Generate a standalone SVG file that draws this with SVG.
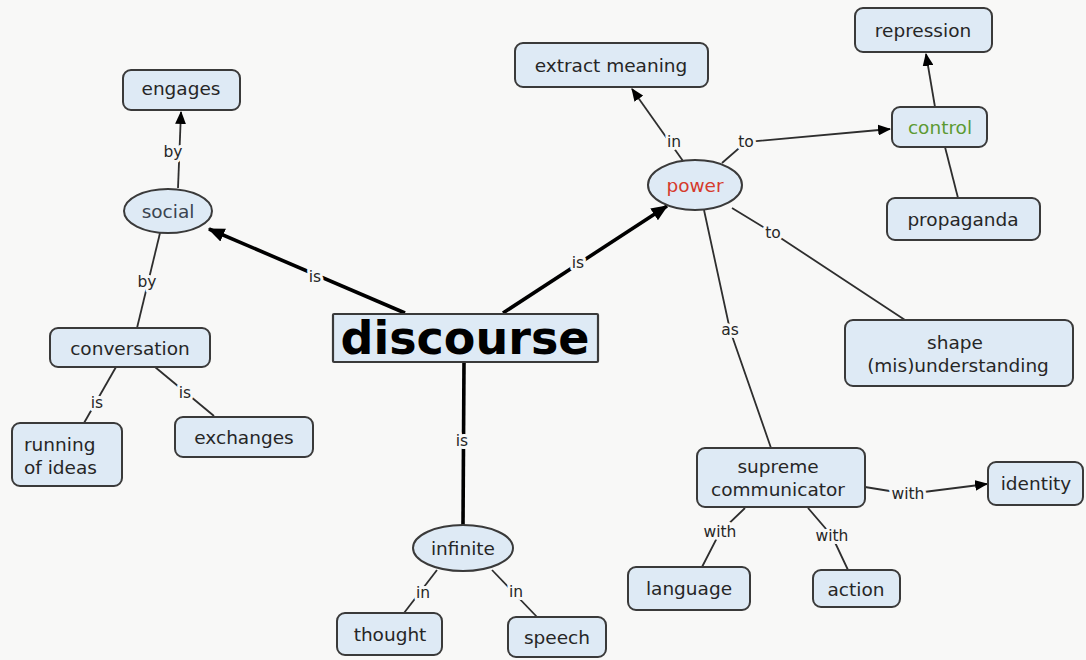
<svg xmlns="http://www.w3.org/2000/svg" width="1086" height="660" viewBox="0 0 1086 660">
<defs>
<style>
.bg{fill:#f8f8f7}
.n rect,.n ellipse{fill:#deeaf5;stroke:#3a3a3a;stroke-width:2}
.t{font-family:"DejaVu Sans",Verdana,sans-serif;font-size:18.5px;fill:#262626;text-anchor:middle}
.l{font-family:"DejaVu Sans",Verdana,sans-serif;font-size:15.5px;fill:#262626;text-anchor:middle;stroke:#f8f8f7;stroke-width:6;paint-order:stroke;stroke-linejoin:round}
.c{fill:none;stroke:#2e2e2e;stroke-width:1.8}
.b{fill:none;stroke:#000;stroke-width:3.6}
</style>
<marker id="ah" viewBox="0 0 12 10" refX="11" refY="5" markerWidth="13" markerHeight="11" markerUnits="userSpaceOnUse" orient="auto"><path d="M0,0 L12,5 L0,10 z" fill="#000"/></marker>
<marker id="ahb" viewBox="0 0 12 10" refX="11" refY="5" markerWidth="17" markerHeight="14" markerUnits="userSpaceOnUse" orient="auto"><path d="M0,0 L12,5 L0,10 z" fill="#000"/></marker>
</defs>
<rect class="bg" x="0" y="0" width="1086" height="660"/>
<g id="connectors">
<polyline class="b" points="405,313 209,229" marker-end="url(#ahb)"/>
<polyline class="b" points="503,313 667,206" marker-end="url(#ahb)"/>
<polyline class="b" points="464,362 463,525"/>
<polyline class="c" points="178,188 181,112" marker-end="url(#ah)"/>
<polyline class="c" points="160,233 137,328"/>
<polyline class="c" points="116,367 84,423"/>
<polyline class="c" points="155,367 214,416"/>
<polyline class="c" points="437,570 404,613"/>
<polyline class="c" points="492,570 538,618"/>
<polyline class="c" points="683,161 632,89" marker-end="url(#ah)"/>
<polyline class="c" points="722,163 746,142 890,129" marker-end="url(#ah)"/>
<polyline class="c" points="935,107 926,54" marker-end="url(#ah)"/>
<polyline class="c" points="958,198 945,147"/>
<polyline class="c" points="732,208 773,233 905,320"/>
<polyline class="c" points="704,210 730,330 771,448"/>
<polyline class="c" points="865,487 908,494 987,484" marker-end="url(#ah)"/>
<polyline class="c" points="745,508 720,532 702,567"/>
<polyline class="c" points="808,508 832,536 848,570"/>
<text class="l" x="315" y="282">is</text>
<text class="l" x="578" y="268">is</text>
<text class="l" x="462" y="446">is</text>
<text class="l" x="173" y="157">by</text>
<text class="l" x="147" y="287">by</text>
<text class="l" x="97" y="408">is</text>
<text class="l" x="185" y="398">is</text>
<text class="l" x="423" y="598">in</text>
<text class="l" x="516" y="597">in</text>
<text class="l" x="674" y="147">in</text>
<text class="l" x="746" y="147">to</text>
<text class="l" x="773" y="238">to</text>
<text class="l" x="730" y="335">as</text>
<text class="l" x="908" y="499">with</text>
<text class="l" x="720" y="537">with</text>
<text class="l" x="832" y="541">with</text>
</g>
<g id="discourse" class="n"><rect x="333" y="314" width="265" height="48" rx="1" style="stroke-width:2.2"/><text x="465" y="354" style="font-family:'DejaVu Sans',Verdana,sans-serif;font-weight:bold;font-size:46px;fill:#000;text-anchor:middle">discourse</text></g>
<g id="engages" class="n"><rect x="123" y="70" width="117" height="40" rx="8"/><text class="t" x="181" y="95">engages</text></g>
<g id="social" class="n"><ellipse cx="168" cy="211" rx="44" ry="22"/><text class="t" x="168" y="218" style="fill:#3a4450">social</text></g>
<g id="conversation" class="n"><rect x="50" y="328" width="160" height="39" rx="8"/><text class="t" x="130" y="355">conversation</text></g>
<g id="running-of-ideas" class="n"><rect x="12" y="423" width="110" height="63" rx="8"/><text class="t" x="24" y="451" style="text-anchor:start">running</text><text class="t" x="24" y="474" style="text-anchor:start">of ideas</text></g>
<g id="exchanges" class="n"><rect x="175" y="417" width="138" height="40" rx="8"/><text class="t" x="244" y="444">exchanges</text></g>
<g id="infinite" class="n"><ellipse cx="463" cy="548" rx="50" ry="23"/><text class="t" x="463" y="555">infinite</text></g>
<g id="thought" class="n"><rect x="337" y="613" width="105" height="42" rx="8"/><text class="t" x="390" y="641">thought</text></g>
<g id="speech" class="n"><rect x="508" y="617" width="98" height="40" rx="8"/><text class="t" x="557" y="644">speech</text></g>
<g id="power" class="n"><ellipse cx="695" cy="185" rx="47" ry="25"/><text class="t" x="695" y="192" style="fill:#d63a2c">power</text></g>
<g id="extract-meaning" class="n"><rect x="515" y="43" width="193" height="44" rx="8"/><text class="t" x="611" y="72">extract meaning</text></g>
<g id="control" class="n"><rect x="892" y="107" width="95" height="40" rx="8"/><text class="t" x="940" y="134" style="fill:#5c9a32">control</text></g>
<g id="repression" class="n"><rect x="855" y="8" width="137" height="44" rx="8"/><text class="t" x="923" y="37">repression</text></g>
<g id="propaganda" class="n"><rect x="887" y="198" width="153" height="42" rx="8"/><text class="t" x="963" y="226">propaganda</text></g>
<g id="shape-misunderstanding" class="n"><rect x="845" y="320" width="228" height="66" rx="8"/><text class="t" x="955" y="349">shape</text><text class="t" x="958" y="372">(mis)understanding</text></g>
<g id="supreme-communicator" class="n"><rect x="697" y="448" width="168" height="59" rx="8"/><text class="t" x="778" y="473">supreme</text><text class="t" x="778" y="496">communicator</text></g>
<g id="identity" class="n"><rect x="988" y="462" width="95" height="43" rx="8"/><text class="t" x="1036" y="490">identity</text></g>
<g id="language" class="n"><rect x="628" y="567" width="122" height="43" rx="8"/><text class="t" x="689" y="595">language</text></g>
<g id="action" class="n"><rect x="813" y="570" width="87" height="37" rx="8"/><text class="t" x="856" y="596">action</text></g>
</svg>
